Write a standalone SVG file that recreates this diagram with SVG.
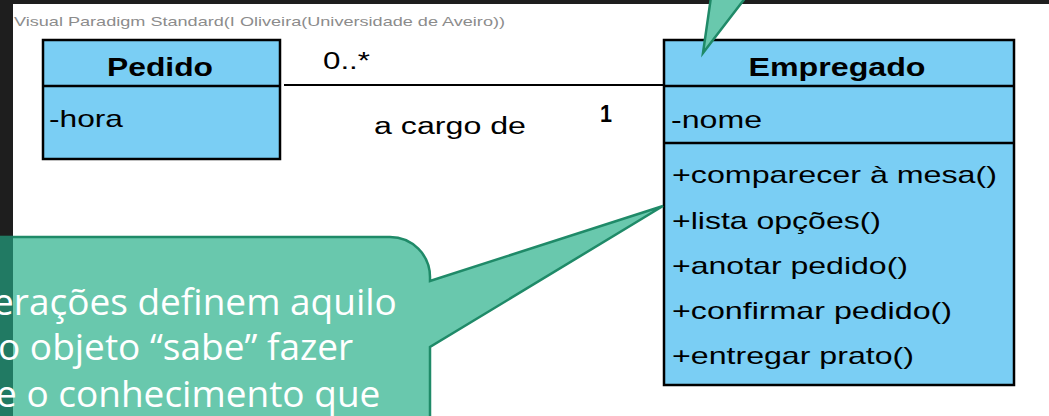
<svg xmlns="http://www.w3.org/2000/svg" width="1049" height="416" viewBox="0 0 1049 416">
<defs>
<style>
.uml{font-family:"Liberation Sans",Arial,sans-serif;fill:#000;}
.title{font-size:25px;font-weight:bold;}
.member{font-size:24px;}
.box{fill:#7acef4;stroke:#000;stroke-width:2.5;}
.note{fill:#69c8ad;stroke:#1f8a68;stroke-width:2.5;stroke-linejoin:miter;}
.notetext{font-family:"Open Sans","Noto Sans",sans-serif;font-size:37px;fill:#fff;}
.wm{font-family:"Liberation Sans",Arial,sans-serif;font-size:13px;fill:#8c8c8c;}
</style>
</defs>
<rect width="1049" height="416" fill="#1e1e1e"/>
<rect x="13" y="4" width="1036" height="412" fill="#ffffff"/>
<text class="wm" x="14" y="26" textLength="491" lengthAdjust="spacingAndGlyphs">Visual Paradigm Standard(I Oliveira(Universidade de Aveiro))</text>

<g id="connectors">
  <line x1="284" y1="85" x2="664" y2="85" stroke="#000" stroke-width="2"/>
  <text class="uml" font-size="23" x="323" y="69" textLength="47" lengthAdjust="spacingAndGlyphs">0..*</text>
  <text class="uml" font-size="23" x="374" y="134" textLength="152" lengthAdjust="spacingAndGlyphs">a cargo de</text>
  <text class="uml" font-size="23" font-weight="bold" x="600" y="122" textLength="12" lengthAdjust="spacingAndGlyphs">1</text>
</g>

<g id="pedido">
  <rect class="box" x="43" y="40" width="237" height="119"/>
  <line x1="43" y1="86" x2="280" y2="86" stroke="#000" stroke-width="2.5"/>
  <text class="uml title" x="160" y="76" text-anchor="middle" textLength="106" lengthAdjust="spacingAndGlyphs">Pedido</text>
  <text class="uml member" x="49" y="127" textLength="74" lengthAdjust="spacingAndGlyphs">-hora</text>
</g>

<g id="empregado">
  <rect class="box" x="664" y="40" width="350" height="345"/>
  <line x1="664" y1="86" x2="1014" y2="86" stroke="#000" stroke-width="2.5"/>
  <line x1="664" y1="143" x2="1014" y2="143" stroke="#000" stroke-width="2.5"/>
  <text class="uml title" x="837" y="76" text-anchor="middle" textLength="177" lengthAdjust="spacingAndGlyphs">Empregado</text>
  <text class="uml member" x="671" y="128" textLength="91" lengthAdjust="spacingAndGlyphs">-nome</text>
  <text class="uml member" x="672" y="183" textLength="325" lengthAdjust="spacingAndGlyphs">+comparecer à mesa()</text>
  <text class="uml member" x="672" y="229" textLength="209" lengthAdjust="spacingAndGlyphs">+lista opções()</text>
  <text class="uml member" x="672" y="274" textLength="236" lengthAdjust="spacingAndGlyphs">+anotar pedido()</text>
  <text class="uml member" x="672" y="319" textLength="280" lengthAdjust="spacingAndGlyphs">+confirmar pedido()</text>
  <text class="uml member" x="672" y="364" textLength="242" lengthAdjust="spacingAndGlyphs">+entregar prato()</text>
</g>

<g id="note-top">
  <path class="note" d="M711,-3 L703,53 L746,-3 Z"/>
</g>

<g id="note-bottom">
  <path class="note" d="M-10,237 H390 A40,40 0 0 1 430,277 V281 L663,206 L430,347 V430 H-10 Z"/>
  <rect x="0" y="236" width="13" height="180" fill="#217a63"/>
  <text class="notetext" x="-7" y="315">erações definem aquilo</text>
  <text class="notetext" x="-2" y="360">o objeto “sabe” fazer</text>
  <text class="notetext" x="-4" y="407">e o conhecimento que</text>
</g>
</svg>
